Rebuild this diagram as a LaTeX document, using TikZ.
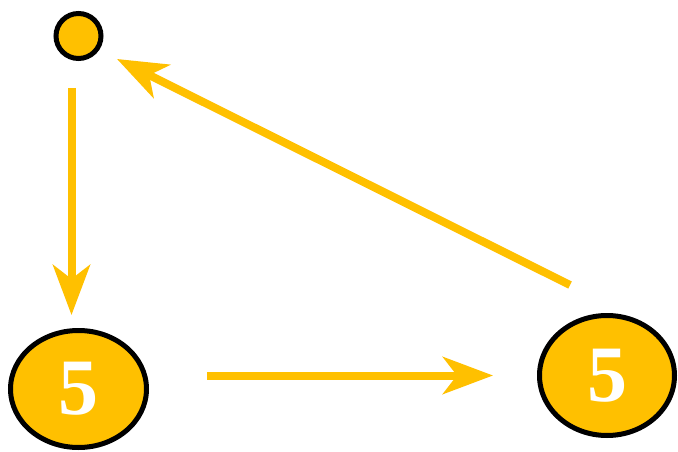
\documentclass[tikz,border=0pt]{standalone}
\usepackage{fontspec}
\setmainfont{Liberation Serif}
\usetikzlibrary{arrows.meta,shapes.geometric}
\definecolor{gold}{HTML}{FFC000}
\begin{document}
\begin{tikzpicture}[x=1pt,y=-1pt,
  dot/.style={circle,draw=black,fill=gold,line width=5pt,minimum size=45pt,inner sep=0pt},
  oval/.style={ellipse,draw=black,fill=gold,line width=5pt,inner sep=0pt,
    text=white,font=\bfseries\fontsize{80}{80}\selectfont},
  link/.style={draw=gold,line width=8pt,-{Stealth[length=50pt,width=37pt,inset=14pt]}}]
\useasboundingbox (0,0) rectangle (678,452);
\fill[white] (0,0) rectangle (678,452);
\node[dot] (c) at (78.5,36) {};
\node[oval,minimum width=136pt,minimum height=117pt] (L) at (78.5,389) {5};
\node[oval,minimum width=135pt,minimum height=120pt] (R) at (607,375.5) {5};
\draw[link,shorten <=27pt,shorten >=13pt] ([xshift=-7pt]c.south) -- ([xshift=-7pt]L.north);
\draw[link,shorten <=58pt,shorten >=44pt] (L.east |- R.west) -- (R.west);
\draw[link] ([xshift=-37pt,yshift=90.5pt]R.center) -- ([xshift=38.5pt,yshift=-23pt]c.center);
\end{tikzpicture}
\end{document}
